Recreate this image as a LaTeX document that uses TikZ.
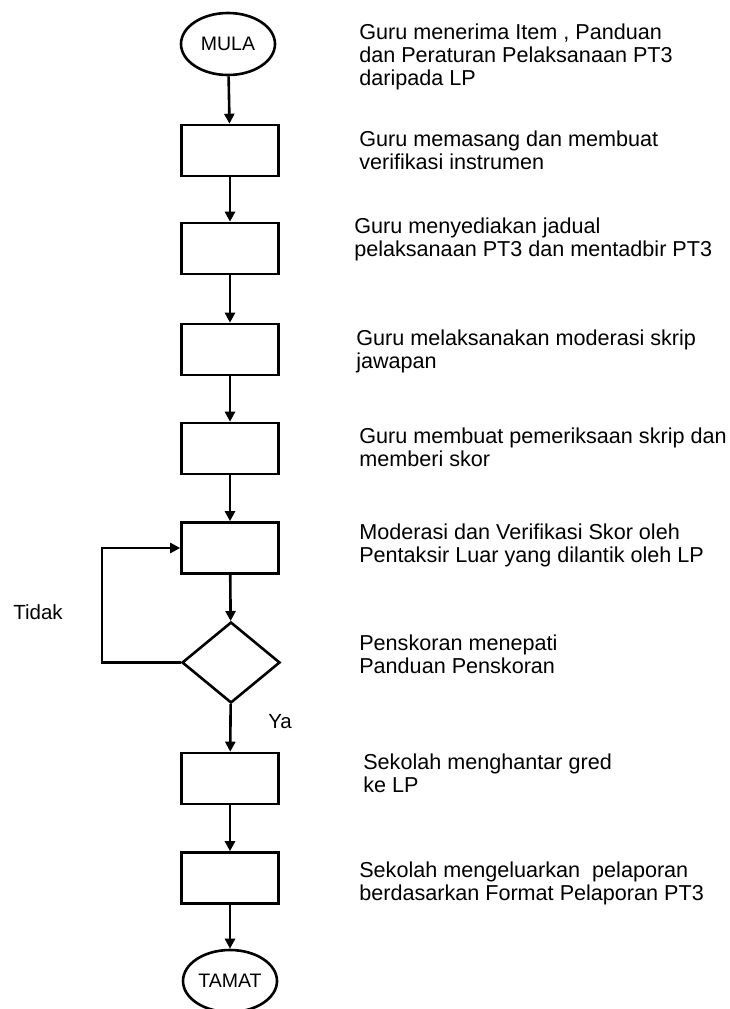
\documentclass[tikz,border=0pt]{standalone}
\usepackage{fontspec}
\setmainfont{Liberation Sans}
\usepackage[]{xcolor}
\usetikzlibrary{shapes.geometric,arrows.meta}

\begin{document}
\begin{tikzpicture}[x=1pt,y=-1pt,line width=2.6pt,
        box/.style={draw,rectangle,minimum width=97pt,minimum height=51pt,inner sep=0pt},
        term/.style={draw,ellipse,minimum width=94pt,minimum height=62pt,inner sep=0pt,font=\fontsize{19.5}{21}\selectfont},
        decide/.style={draw,diamond,minimum width=98pt,minimum height=81pt,inner sep=0pt},
        txt/.style={anchor=west,align=left,inner sep=0pt,font=\fontsize{21.6}{23}\selectfont},
        lbl/.style={anchor=west,inner sep=0pt,font=\fontsize{20.5}{22}\selectfont},
        arr/.style={-{Triangle[length=10pt,width=10pt]}}]
        \useasboundingbox (0,0) rectangle (730,1009);
        % flow
        \node[term]   (mula)  at (228,44)    {MULA};
        \node[box]    (b1)    at (230,150.5) {};
        \node[box]    (b2)    at (230,248.5) {};
        \node[box]    (b3)    at (230,349.5) {};
        \node[box]    (b4)    at (230,448.5) {};
        \node[box]    (b5)    at (230,548)   {};
        \node[decide] (dia)   at (231,662.5) {};
        \node[box]    (b6)    at (230,778.5) {};
        \node[box]    (b7)    at (230,878)   {};
        \node[term]   (tamat) at (230,981)   {TAMAT};
        \draw[arr] (mula) -- (b1);
        \draw[arr] (b1) -- (b2);
        \draw[arr] (b2) -- (b3);
        \draw[arr] (b3) -- (b4);
        \draw[arr] (b4) -- (b5);
        \draw[arr] (b5) -- (dia);
        \draw[arr] (dia) -- (b6);
        \draw[arr] (b6) -- (b7);
        \draw[arr] (b7) -- (tamat);
        \coordinate (loop) at (102,662.5);
        \draw[arr] (dia.west) -- (loop) |- (b5.west);
        \node[lbl] (tidak) at (12,612) {Tidak};
        \node[lbl] (ya)    at (267,722) {Ya};
        % descriptions
        \node[txt] (t1) at (358,57)  {Guru menerima Item , Panduan\\dan Peraturan Pelaksanaan PT3\\daripada LP};
        \node[txt] (t2) at (358,150) {Guru memasang dan membuat\\verifikasi instrumen};
        \node[txt] (t3) at (353,239) {Guru menyediakan jadual\\pelaksanaan PT3 dan mentadbir PT3};
        \node[txt] (t4) at (355,351) {Guru melaksanakan moderasi skrip\\jawapan};
        \node[txt] (t5) at (358,447) {Guru membuat pemeriksaan skrip dan\\memberi skor};
        \node[txt] (t6) at (358,545) {Moderasi dan Verifikasi Skor oleh\\Pentaksir Luar yang dilantik oleh LP};
        \node[txt] (t7) at (358,654) {Penskoran menepati\\Panduan Penskoran};
        \node[txt] (t8) at (362,773) {Sekolah menghantar gred\\ke LP};
        \node[txt] (t9) at (358,883) {Sekolah mengeluarkan\ \ pelaporan\\berdasarkan Format Pelaporan PT3};
\end{tikzpicture}
\end{document}
